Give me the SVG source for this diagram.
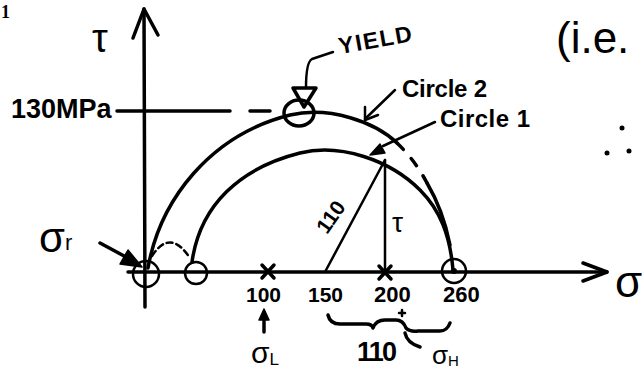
<svg xmlns="http://www.w3.org/2000/svg" width="643" height="369" viewBox="0 0 643 369">
<style>
.ln{fill:none;stroke:#000;stroke-linecap:round;stroke-linejoin:round}
.ax{stroke-width:3.5}
.cv{stroke-width:3.5}
.th{stroke-width:2.5}
.dash{stroke-dasharray:9 12}
.fill{fill:#000;stroke:#000;stroke-width:1.5;stroke-linejoin:round}
.t{font-family:"Liberation Sans",Arial,sans-serif;font-weight:bold;fill:#000}
.n{font-family:"Liberation Sans",Arial,sans-serif;fill:#000}
</style>
<rect width="643" height="369" fill="#fff"/>

<g id="corner-label"><text x="1" y="18" font-family="'Liberation Serif',serif" font-weight="bold" font-size="18">1</text></g>

<g id="axes">
  <path class="ln ax" d="M128,272 L607,272"/>
  <path class="ln ax" d="M583,263 L607,272 L583,281"/>
  <path class="ln ax" d="M145,307 L144,9"/>
  <path class="ln ax" d="M133,38 L144,9 L158,35"/>
  <text class="n" x="92" y="52" font-size="40">τ</text>
  <text class="n" x="615" y="297" font-size="44">σ</text>
</g>

<g id="circle2">
  <path class="ln cv" d="M148,268 C160,200 210,135 290,115 C330,106 375,122 397,143"/>
  <path class="ln cv dash" d="M397,143 Q415,160 427,183"/>
  <path class="ln cv" d="M427,183 Q443,210 450,245"/>
</g>

<g id="circle1">
  <path class="ln cv" d="M192,262 C200,205 240,168 300,153 C340,143 390,160 420,190 C440,210 450,235 453,270"/>
</g>

<g id="small-arc">
  <path class="ln th" stroke-dasharray="6 4" d="M152,256 Q170,228 190,258"/>
</g>

<g id="markers">
  <circle class="ln th" cx="146" cy="274" r="13"/>
  <circle class="ln th" cx="196" cy="273" r="11"/>
  <circle class="ln th" cx="454" cy="271" r="12"/>
  <circle cx="454" cy="271" r="3"/>
  <path class="ln ax" d="M262,265 L274,278 M274,265 L262,278"/>
  <path class="ln ax" d="M379,266 L391,279 M391,266 L379,279"/>
</g>

<g id="yield">
  <path class="ln ax" d="M117,111 L230,111"/>
  <path class="ln ax" d="M250,111 L270,111"/>
  <ellipse class="ln ax" cx="299" cy="113" rx="15" ry="13"/>
  <path class="ln ax" d="M293,88 L316,88 L304,107 Z"/>
  <text class="t" x="340" y="54" font-size="23" textLength="74" transform="rotate(-10 340 54)">YIELD</text>
  <text class="t" x="11" y="118" font-size="27">130MPa</text>
</g>

<g id="connectors">
  <path class="ln th" d="M333,52 L312,59 Q306,62 306,88"/>
  <path class="ln th" d="M395,90 L365,119"/>
  <path class="ln th" d="M365,107 L365,120 L378,115"/>
  <path class="ln th" d="M435,122 L383,146"/>
  <path class="fill" d="M370,155 L385,153 L380,144 Z"/>
  <path class="ln ax" d="M100,243 L126,257"/>
  <path class="fill" d="M142,267 L120,264 L128,250 Z"/>
  <path class="ln ax" d="M264,332 L264,318"/>
  <path class="fill" d="M264,309 L259,320 L269,320 Z"/>
  <path class="ln th" d="M325,272 L385,160"/>
  <path class="ln th" d="M385,160 L385,272"/>
  <path class="ln ax" d="M328,315 Q330,324 340,324 L366,324 Q372,324 373,328 Q376,320 385,320 L396,320 Q403,320 406,328 Q410,332 418,331 L440,331 Q447,331 450,323"/>
  <path class="ln th" d="M399,313 L405,313 M402,310 L402,316"/>
  <path class="ln ax" d="M405,333 Q407,343 420,347"/>
</g>

<g id="labels">
  <text class="t" x="402" y="97" font-size="24" textLength="85">Circle 2</text>
  <text class="t" x="440" y="127" font-size="24" textLength="90">Circle 1</text>
  <text class="n" x="556" y="53" font-size="44">(i.e.</text>
  <circle cx="622" cy="128" r="2.5"/>
  <circle cx="607" cy="153" r="2.5"/>
  <circle cx="629" cy="151" r="2.5"/>
  <text class="t" x="331" y="224" font-size="21" text-anchor="middle" transform="rotate(-55 331 217)">110</text>
  <text class="n" x="392" y="232" font-size="28">τ</text>
  <text class="t" x="246" y="302" font-size="21">100</text>
  <text class="t" x="308" y="302" font-size="21">150</text>
  <text class="t" x="374" y="302" font-size="22">200</text>
  <text class="t" x="443" y="302" font-size="22">260</text>
  <text class="t" x="357" y="361" font-size="27" textLength="40">110</text>
  <text class="n" x="39" y="252" font-size="42">σ<tspan font-size="22" dy="-2">r</tspan></text>
  <text class="n" x="251" y="363" font-size="30">σ<tspan font-size="17" dy="2">L</tspan></text>
  <text class="n" x="432" y="364" font-size="26">σ<tspan font-size="15" dy="2">H</tspan></text>
</g>
</svg>
